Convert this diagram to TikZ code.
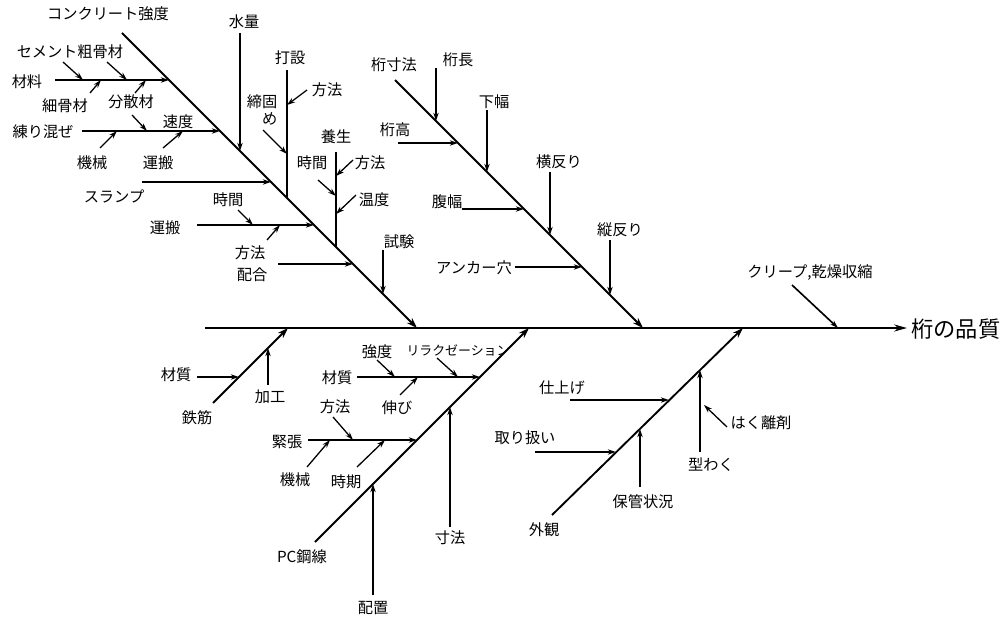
\documentclass[tikz,border=0pt]{standalone}
\usepackage{fontspec}
\setmainfont{Noto Sans CJK JP}
\usetikzlibrary{arrows.meta}

\begin{document}
\begin{tikzpicture}[x=0.03cm, y=-0.03cm,
  lbl/.style={font=\fontsize{13}{15}\selectfont, inner sep=0pt},
  bone/.style={line width=1.6pt, -{Stealth[open, length=9pt, width=6pt]}},
  twig/.style={line width=1.1pt, -{Stealth[open, length=7pt, width=4.5pt]}},
  stem/.style={line width=1.1pt}
]
\useasboundingbox (0,0) rectangle (1006,621);

% spine
\coordinate (s0) at (205,328);
\coordinate (s1) at (907,328);
\node[font=\fontsize{19}{21}\selectfont, inner sep=0pt, anchor=west] (hinshitsu) at (911,329) {桁の品質};
\draw[line width=1.6pt, -{Stealth[length=11pt, width=6pt]}] (s0) -- (s1);

% concrete strength
\coordinate (c0) at (122,33);
\coordinate (c1) at (417,328);
\draw[bone] (c0) -- (c1);
\node[lbl] (kyodo) at (108,14) {コンクリート強度};
\node[lbl] (zairyo) at (27,82) {材料};
\node[lbl] (cement) at (70,52) {セメント粗骨材};
\node[lbl] (saikotsu) at (65,106) {細骨材};
\node[lbl] (bunsan) at (131,102) {分散材};
\node[lbl] (nerimaze) at (43,132) {練り混ぜ};
\node[lbl] (sokudo) at (178,122) {速度};
\node[lbl] (kikai1) at (92,163) {機械};
\node[lbl] (unpan1) at (158,163) {運搬};
\node[lbl] (suiryo) at (244,22) {水量};
\node[lbl] (slump) at (114,196) {スランプ};
\node[lbl] (dasetsu) at (290,58) {打設};
\node[lbl] (houhou1) at (327,90) {方法};
\node[lbl, align=right] (shime) at (262,110) {締固\\め};
\node[lbl] (unpan2) at (165,228) {運搬};
\node[lbl] (jikan1) at (228,200) {時間};
\node[lbl] (houhou2) at (250,253) {方法};
\node[lbl] (haigou) at (252,275) {配合};
\node[lbl] (yojo) at (336,137) {養生};
\node[lbl] (jikan2) at (312,163) {時間};
\node[lbl] (houhou3) at (370,163) {方法};
\node[lbl] (ondo) at (374,200) {温度};
\node[lbl] (shiken) at (399,242) {試験};

\coordinate (zairyo-t) at (55,80);    \coordinate (zairyo-h) at (169,80);
\coordinate (cement-t) at (63,62);    \coordinate (cement-h) at (83,80);
\coordinate (kotsu-t) at (107,62);    \coordinate (kotsu-h) at (127,80);
\coordinate (saikotsu-t) at (90,93);  \coordinate (saikotsu-h) at (101,80);
\coordinate (bunsan-t) at (135,93);   \coordinate (bunsan-h) at (146,80);
\coordinate (nerimaze-t) at (82,131); \coordinate (nerimaze-h) at (220,131);
\coordinate (sokudo-t) at (132,115);  \coordinate (sokudo-h) at (147,131);
\coordinate (kikai1-t) at (100,148);  \coordinate (kikai1-h) at (117,131);
\coordinate (unpan1-t) at (163,148);  \coordinate (unpan1-h) at (183,131);
\coordinate (suiryo-t) at (240,33);   \coordinate (suiryo-h) at (240,151);
\coordinate (slump-t) at (142,182);   \coordinate (slump-h) at (271,182);
\coordinate (dasetsu-t) at (287,70);  \coordinate (dasetsu-h) at (287,198);
\coordinate (houhou1-t) at (307,90);  \coordinate (houhou1-h) at (287,105);
\coordinate (shime-t) at (263,130);   \coordinate (shime-h) at (287,154);
\coordinate (unpan2-t) at (197,225);  \coordinate (unpan2-h) at (314,225);
\coordinate (jikan1-t) at (238,210);  \coordinate (jikan1-h) at (253,225);
\coordinate (houhou2-t) at (267,240); \coordinate (houhou2-h) at (280,225);
\coordinate (haigou-t) at (278,264);  \coordinate (haigou-h) at (353,264);
\coordinate (yojo-t) at (336,152);    \coordinate (yojo-h) at (336,247);
\coordinate (houhou3-t) at (353,160); \coordinate (houhou3-h) at (336,176);
\coordinate (jikan2-t) at (318,180);  \coordinate (jikan2-h) at (336,196);
\coordinate (ondo-t) at (356,195);    \coordinate (ondo-h) at (336,214);
\coordinate (shiken-t) at (383,250);  \coordinate (shiken-h) at (383,294);

\foreach \n in {zairyo, cement, kotsu, saikotsu, bunsan, nerimaze, sokudo, kikai1,
  unpan1, suiryo, slump, houhou1, shime, unpan2, jikan1, houhou2, haigou,
  houhou3, jikan2, ondo, shiken}
  \draw[twig] (\n-t) -- (\n-h);
\draw[stem] (dasetsu-t) -- (dasetsu-h);
\draw[stem] (yojo-t) -- (yojo-h);

% girder dimensions
\coordinate (g0) at (395,80);
\coordinate (g1) at (643,328);
\draw[bone] (g0) -- (g1);
\node[lbl] (keta) at (394,65) {桁寸法};
\node[lbl] (ketanaga) at (458,60) {桁長};
\node[lbl] (ketadaka) at (395,130) {桁高};
\node[lbl] (shitahaba) at (494,102) {下幅};
\node[lbl] (yokosori) at (559,162) {横反り};
\node[lbl] (fukuhaba) at (447,202) {腹幅};
\node[lbl] (anchor) at (474,268) {アンカー穴};
\node[lbl] (tatesori) at (620,230) {縦反り};

\coordinate (ketanaga-t) at (436,68);   \coordinate (ketanaga-h) at (436,121);
\coordinate (ketadaka-t) at (398,143);  \coordinate (ketadaka-h) at (458,143);
\coordinate (shitahaba-t) at (487,110); \coordinate (shitahaba-h) at (487,172);
\coordinate (yokosori-t) at (550,172);  \coordinate (yokosori-h) at (550,235);
\coordinate (fukuhaba-t) at (462,209);  \coordinate (fukuhaba-h) at (524,209);
\coordinate (anchor-t) at (515,267);    \coordinate (anchor-h) at (582,267);
\coordinate (tatesori-t) at (610,240);  \coordinate (tatesori-h) at (610,295);
\foreach \n in {ketanaga, ketadaka, shitahaba, yokosori, fukuhaba, anchor, tatesori}
  \draw[twig] (\n-t) -- (\n-h);

% creep
\node[lbl] (creep) at (810,273) {クリープ,乾燥収縮};
\coordinate (creep-t) at (792,285); \coordinate (creep-h) at (838,328);
\draw[twig, line width=1.4pt] (creep-t) -- (creep-h);

% reinforcing bars
\coordinate (r0) at (213,403);
\coordinate (r1) at (288,328);
\draw[bone] (r0) -- (r1);
\node[lbl] (tekkin) at (197,418) {鉄筋};
\node[lbl] (zaishitsu1) at (176,375) {材質};
\node[lbl] (kakou) at (270,397) {加工};
\coordinate (zaishitsu1-t) at (197,377); \coordinate (zaishitsu1-h) at (239,377);
\coordinate (kakou-t) at (268,385);      \coordinate (kakou-h) at (268,348);
\draw[twig] (zaishitsu1-t) -- (zaishitsu1-h);
\draw[twig] (kakou-t) -- (kakou-h);

% PC strand
\coordinate (p0) at (315,542);
\coordinate (p1) at (529,328);
\draw[bone] (p0) -- (p1);
\node[lbl] (pc) at (302,557) {PC鋼線};
\node[lbl] (kyodo2) at (377,352) {強度};
\node[lbl, font=\fontsize{11}{13}\selectfont] (relax) at (458,350) {リラクゼーション};
\node[lbl] (zaishitsu2) at (337,378) {材質};
\node[lbl] (nobi) at (397,408) {伸び};
\node[lbl] (kinchou) at (287,442) {緊張};
\node[lbl] (houhou4) at (335,407) {方法};
\node[lbl] (kikai2) at (295,480) {機械};
\node[lbl] (jiki) at (346,482) {時期};
\node[lbl] (haichi) at (373,608) {配置};
\node[lbl] (sunpou) at (450,538) {寸法};

\coordinate (zaishitsu2-t) at (357,377); \coordinate (zaishitsu2-h) at (480,377);
\coordinate (kyodo2-t) at (377,360);     \coordinate (kyodo2-h) at (395,377);
\coordinate (relax-t) at (437,358);      \coordinate (relax-h) at (458,377);
\coordinate (nobi-t) at (400,395);       \coordinate (nobi-h) at (418,377);
\coordinate (kinchou-t) at (308,440);    \coordinate (kinchou-h) at (417,440);
\coordinate (houhou4-t) at (333,417);    \coordinate (houhou4-h) at (353,440);
\coordinate (kikai2-t) at (307,467);     \coordinate (kikai2-h) at (330,440);
\coordinate (jiki-t) at (357,467);       \coordinate (jiki-h) at (385,440);
\coordinate (haichi-t) at (373,595);     \coordinate (haichi-h) at (373,484);
\coordinate (sunpou-t) at (450,527);     \coordinate (sunpou-h) at (450,407);
\foreach \n in {zaishitsu2, kyodo2, relax, nobi, kinchou, houhou4, kikai2, jiki, haichi, sunpou}
  \draw[twig] (\n-t) -- (\n-h);

% appearance
\coordinate (e0) at (552,515);
\coordinate (e1) at (743,328);
\draw[bone] (e0) -- (e1);
\node[lbl] (gaikan) at (544,530) {外観};
\node[lbl] (shiage) at (562,388) {仕上げ};
\node[lbl] (toriatsukai) at (525,438) {取り扱い};
\node[lbl] (hokan) at (643,502) {保管状況};
\node[lbl] (katawaku) at (711,465) {型わく};
\node[lbl] (hakuri) at (761,423) {はく離剤};

\coordinate (shiage-t) at (570,400);      \coordinate (shiage-h) at (669,400);
\coordinate (toriatsukai-t) at (535,452); \coordinate (toriatsukai-h) at (616,452);
\coordinate (hokan-t) at (640,487);       \coordinate (hokan-h) at (640,429);
\coordinate (katawaku-t) at (700,452);    \coordinate (katawaku-h) at (700,370);
\coordinate (hakuri-t) at (727,427);      \coordinate (hakuri-h) at (704,405);
\foreach \n in {shiage, toriatsukai, hokan, katawaku, hakuri}
  \draw[twig] (\n-t) -- (\n-h);
\end{tikzpicture}
\end{document}
